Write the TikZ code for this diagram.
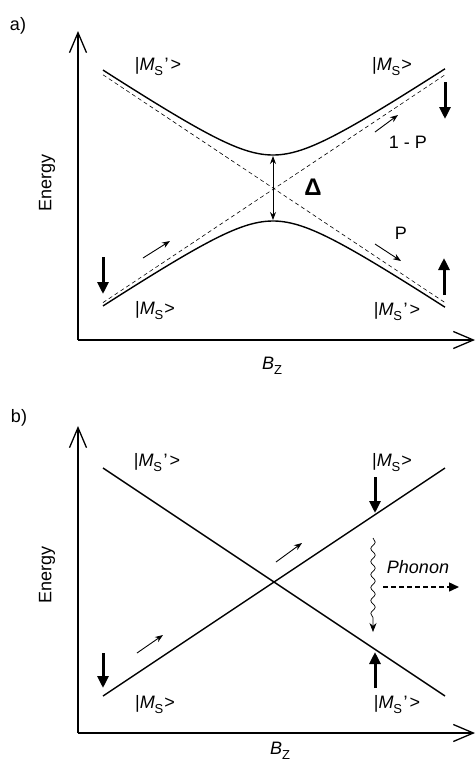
\documentclass[tikz,border=0pt]{standalone}
\usepackage{fontspec}
\setmainfont{Liberation Sans}
\usetikzlibrary{arrows.meta,decorations.pathmorphing}
\tikzset{
 axis/.style={line width=1.3pt, -{Straight Barb[length=20pt,width=17pt,line width=1.3pt]}},
 level/.style={line width=1.4pt},
 asym/.style={line width=0.6pt, dash pattern=on 4pt off 3pt},
 spin/.style={line width=3pt, -{Triangle[length=12pt,width=11pt]}},
 small/.style={line width=0.9pt, -{Stealth[length=8pt,width=6pt]}},
 lbl/.style={font=\fontsize{18}{20}\selectfont, inner sep=0pt},
}
\newcommand{\subS}[1]{\raisebox{-0.28em}{\fontsize{13}{13}\selectfont #1}}
\newcommand{\ketM}{|\textit{M}\subS{S}\kern1pt>}
\newcommand{\ketMp}{|\textit{M}\subS{S}\kern1.5pt’\kern2pt>}
\begin{document}
\begin{tikzpicture}[x=1pt,y=-1pt]
\useasboundingbox (0,0) rectangle (476,764);
% ---------- panel a ----------
\node[lbl] (la) at (18,26) {a)};
\coordinate (oa) at (78,340);
\coordinate (ya) at (78,31);
\coordinate (xa) at (475,340);
\draw[axis] (oa) -- (ya);
\draw[axis] (oa) -- (xa);
\node[lbl,rotate=90] (ea) at (47,183) {Energy};
\node[lbl] (ba) at (272,366) {\textit{B}\subS{Z}};
% asymptotes
\coordinate (d1s) at (103,74.8);
\coordinate (d1e) at (445,302.6);
\coordinate (d2s) at (103,302.6);
\coordinate (d2e) at (445,74.8);
\draw[asym] (d1s) -- (d1e);
\draw[asym] (d2s) -- (d2e);
% hyperbolae
\draw[level] plot[domain=103:445,samples=120,smooth] (\x,{188-sqrt(33*33+(0.666*(\x-273))^2)});
\draw[level] plot[domain=103:445,samples=120,smooth] (\x,{188+sqrt(33*33+(0.666*(\x-273))^2)});
% gap
\coordinate (gt) at (273,156);
\coordinate (gb) at (273,220);
\draw[line width=0.9pt,{Stealth[length=8pt,width=6pt]}-{Stealth[length=8pt,width=6pt]}] (gt) -- (gb);
\node[font=\bfseries\fontsize{24}{26}\selectfont,inner sep=0pt] (delta) at (313,187) {Δ};
% labels
\node[lbl] (a1) at (158,67) {\ketMp};
\node[lbl] (a2) at (392,67) {\ketM};
\node[lbl] (a3) at (155,311) {\ketM};
\node[lbl] (a4) at (397,312) {\ketMp};
% small arrows
\coordinate (s1a) at (143,258);
\coordinate (s1b) at (170,241);
\draw[small] (s1a) -- (s1b);
\coordinate (s2a) at (375,132);
\coordinate (s2b) at (398,115);
\draw[small] (s2a) -- (s2b);
\node[lbl] (p1) at (408,142) {1 - P};
\coordinate (s3a) at (375,244);
\coordinate (s3b) at (401,261);
\draw[small] (s3a) -- (s3b);
\node[lbl] (p2) at (401,233) {P};
% spin arrows
\coordinate (t1a) at (103,257);
\coordinate (t1b) at (103,294);
\draw[spin] (t1a) -- (t1b);
\coordinate (t2a) at (445,82);
\coordinate (t2b) at (445,119);
\draw[spin] (t2a) -- (t2b);
\coordinate (t3a) at (444,295);
\coordinate (t3b) at (444,258);
\draw[spin] (t3a) -- (t3b);
% ---------- panel b ----------
\node[lbl] (lb) at (19,418) {b)};
\coordinate (ob) at (78,733);
\coordinate (yb) at (78,426);
\coordinate (xb) at (475,733);
\draw[axis] (ob) -- (yb);
\draw[axis] (ob) -- (xb);
\node[lbl,rotate=90] (eb) at (47,575) {Energy};
\node[lbl] (bb) at (280,751) {\textit{B}\subS{Z}};
\coordinate (l1s) at (103,468);
\coordinate (l1e) at (445,696);
\coordinate (l2s) at (103,696);
\coordinate (l2e) at (445,468);
\draw[level] (l1s) -- (l1e);
\draw[level] (l2s) -- (l2e);
\node[lbl] (b1) at (157,463) {\ketMp};
\node[lbl] (b2) at (392,463) {\ketM};
\node[lbl] (b3) at (155,705) {\ketM};
\node[lbl] (b4) at (397,705) {\ketMp};
\coordinate (u1a) at (375,477);
\coordinate (u1b) at (375,513);
\draw[spin] (u1a) -- (u1b);
\coordinate (u2a) at (375,688);
\coordinate (u2b) at (375,652);
\draw[spin] (u2a) -- (u2b);
\coordinate (u3a) at (103,653);
\coordinate (u3b) at (103,688);
\draw[spin] (u3a) -- (u3b);
\coordinate (v1a) at (137,653);
\coordinate (v1b) at (163,635);
\draw[small] (v1a) -- (v1b);
\coordinate (v2a) at (276,562);
\coordinate (v2b) at (302,543);
\draw[small] (v2a) -- (v2b);
% phonon
\coordinate (w1) at (373,538);
\coordinate (w2) at (373,632);
\draw[line width=0.7pt,-{Stealth[length=9pt,width=7pt]},decorate,decoration={snake,amplitude=2.2pt,segment length=13pt,post length=9pt}] (w1) -- (w2);
\node[lbl,font=\itshape\fontsize{18}{20}\selectfont] (ph) at (418,567) {Phonon};
\coordinate (q1) at (383,587);
\coordinate (q2) at (459,587);
\draw[line width=1.5pt,dash pattern=on 5pt off 3pt,-{Triangle[length=10pt,width=9pt]}] (q1) -- (q2);
\end{tikzpicture}
\end{document}
